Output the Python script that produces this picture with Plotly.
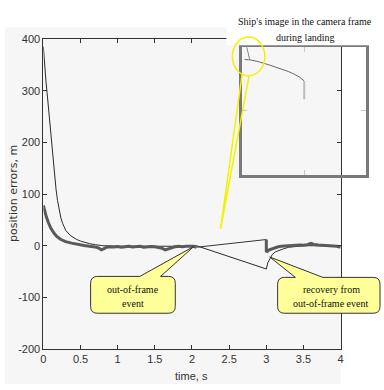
import plotly.graph_objects as go

# ---------------- data ----------------
# thin (dark) series: position error, m
t_thin = [0, 0.01, 0.02, 0.035, 0.05, 0.065, 0.08, 0.095, 0.11, 0.13, 0.15, 0.17, 0.19,
          0.21, 0.235, 0.26, 0.30, 0.36, 0.40, 0.45, 0.50, 0.56, 0.62, 0.70, 0.80,
          1.0, 1.2, 1.4, 1.6, 1.8, 2.0, 2.06,
          3.0, 3.02, 3.05, 3.08, 3.12, 3.17, 3.23, 3.3, 3.4, 3.5, 3.7, 4.0]
e_thin = [385, 362, 340, 318, 296, 272, 248, 224, 200, 168, 138, 110, 88,
          70, 54, 43, 30, 20, 16, 12, 9, 6, 4, 2, 0,
          -1, -1, -1, -2, -1, -1, 0,
          -45, -33, -24, -17, -12, -9, -6, -3, -1, 0, 0, -1]

# thick (gray) series, before the out-of-frame event
t_gray_a = [0, 0.02, 0.04, 0.07, 0.10, 0.14, 0.18, 0.23, 0.30, 0.38, 0.46, 0.55, 0.62,
            0.68, 0.72, 0.75, 0.78, 0.81, 0.85, 0.90, 0.95, 1.00, 1.05, 1.10, 1.15, 1.20,
            1.25, 1.30, 1.35, 1.40, 1.45, 1.50, 1.55, 1.60, 1.64, 1.68, 1.72, 1.77, 1.82,
            1.87, 1.92, 1.97, 2.02, 2.06]
e_gray_a = [78, 66, 56, 44, 34, 25, 18, 12.5, 8, 5, 2.5, 0.5, -1,
            -2, -3, -5, -8, -6, -3, -2, -2.5, -1.5, -3, -2, -1, -2.5,
            -2, -1, -3, -2, -1.5, -2, -3, -5, -8, -6, -3, -2, -1,
            -2, -1, -1.5, -1, -3]
# thick (gray) series, after recovery
t_gray_b = [3.0, 3.0, 3.04, 3.08, 3.12, 3.16, 3.2, 3.25, 3.3, 3.35, 3.4, 3.45, 3.5,
            3.55, 3.6, 3.64, 3.7, 3.75, 3.8, 3.85, 3.9, 3.95, 4.0]
e_gray_b = [12, -12, -8, -5.5, -3.5, -2, -1, -0.5, 0, 1, 0.5, 1.5, 1,
            2, 4.5, 2.5, 1.5, 1, 1.5, 0.5, 0, -1, -3]

x_ticks = [0, 0.5, 1, 1.5, 2, 2.5, 3, 3.5, 4]
x_tick_labels = ["0", "0.5", "1", "1.5", "2", "2.5", "3", "3.5", "4"]
y_ticks = [-200, -100, 0, 100, 200, 300, 400]
y_tick_labels = ["-200", "-100", "0", "100", "200", "300", "400"]

# inset: ship's image trace in the camera frame (normalized frame units 0..2)
inset_x = [0.04, 0.15, 0.30, 0.45, 0.63, 0.75, 0.85, 0.93, 1.0]
inset_y = [1.80, 1.79, 1.755, 1.71, 1.65, 1.61, 1.565, 1.52, 1.465]
inset_drop_x = [1.0, 1.0]
inset_drop_y = [1.465, 1.18]
inset_start_x = [0.075, 0.12]
inset_start_y = [1.99, 1.80]

# ---------------- figure ----------------
W, H = 384, 390


def P(px, py):
    return px / W, 1 - py / H


def path(points):
    s = ""
    for cmd, pts in points:
        s += cmd
        s += " ".join(f"{P(x, y)[0]:.5f},{P(x, y)[1]:.5f}" for x, y in pts) + " "
    return s + "Z"


def callout(x0, y0, x1, y1, b0, b1, tip, r=7):
    return path([
        ("M", [(x0 + r, y0)]),
        ("L", [(b0, y0)]),
        ("L", [tip]),
        ("L", [(b1, y0)]),
        ("L", [(x1 - r, y0)]),
        ("Q", [(x1, y0), (x1, y0 + r)]),
        ("L", [(x1, y1 - r)]),
        ("Q", [(x1, y1), (x1 - r, y1)]),
        ("L", [(x0 + r, y1)]),
        ("Q", [(x0, y1), (x0, y1 - r)]),
        ("L", [(x0, y0 + r)]),
        ("Q", [(x0, y0), (x0 + r, y0)]),
    ])


fig = go.Figure()

fig.add_trace(go.Scatter(x=t_thin, y=e_thin, mode="lines",
                         line=dict(color="#2a2a2a", width=1), hoverinfo="skip"))
fig.add_trace(go.Scatter(x=[t_gray_a[-1], t_gray_b[0]], y=[e_gray_a[-1], e_gray_b[0]],
                         mode="lines", line=dict(color="#333333", width=1), hoverinfo="skip"))
fig.add_trace(go.Scatter(x=t_gray_a, y=e_gray_a, mode="lines",
                         line=dict(color="#5a5a5a", width=3), hoverinfo="skip"))
fig.add_trace(go.Scatter(x=t_gray_b, y=e_gray_b, mode="lines",
                         line=dict(color="#5a5a5a", width=3), hoverinfo="skip"))

# inset traces
fig.add_trace(go.Scatter(x=inset_x, y=inset_y, mode="lines", xaxis="x2", yaxis="y2",
                         line=dict(color="#666666", width=1, shape="spline"), hoverinfo="skip"))
fig.add_trace(go.Scatter(x=inset_drop_x, y=inset_drop_y, mode="lines", xaxis="x2", yaxis="y2",
                         line=dict(color="#bbbbbb", width=2), hoverinfo="skip"))
fig.add_trace(go.Scatter(x=inset_start_x, y=inset_start_y, mode="lines", xaxis="x2", yaxis="y2",
                         line=dict(color="#888888", width=1), hoverinfo="skip"))

tick_font = dict(family="Liberation Sans Narrow, Arial Narrow, Liberation Sans, sans-serif",
                 size=11, color="#333333")

axis_common = dict(showline=True, linecolor="#333333", linewidth=1, mirror="ticks",
                   ticks="inside", ticklen=4, tickcolor="#333333", showgrid=False,
                   zeroline=False, tickfont=tick_font)

fig.update_layout(
    width=W, height=H,
    margin=dict(l=0, r=0, t=0, b=0),
    paper_bgcolor="white",
    plot_bgcolor="rgba(0,0,0,0)",
    showlegend=False,
    xaxis=dict(domain=[41 / W, 343 / W], range=[0, 4], tickvals=x_ticks,
               ticktext=x_tick_labels, **axis_common),
    yaxis=dict(domain=[1 - 354 / H, 1 - 34 / H], range=[-200, 400], tickvals=y_ticks,
               ticktext=y_tick_labels, **axis_common),
    xaxis2=dict(domain=[243 / W, 369 / W], range=[0, 2], anchor="y2", tickvals=[1],
                showticklabels=False, ticks="inside", ticklen=5, tickcolor="#c8c8c8",
                showline=True, linewidth=3, linecolor="#7a7a7a", mirror="ticks",
                showgrid=False, zeroline=False),
    yaxis2=dict(domain=[1 - 174 / H, 1 - 42 / H], range=[0, 2], anchor="x2", tickvals=[1],
                showticklabels=False, ticks="inside", ticklen=5, tickcolor="#c8c8c8",
                showline=True, linewidth=3, linecolor="#7a7a7a", mirror="ticks",
                showgrid=False, zeroline=False),
)

shapes = []
# light gray figure background
gx0, gy0 = P(2, 22)
gx1, gy1 = P(343, 390)
shapes.append(dict(type="rect", xref="paper", yref="paper", x0=gx0, y0=gy1, x1=gx1, y1=gy0,
                   fillcolor="#f6f6f6", line=dict(width=0), layer="below"))
# white area of the inset picture (covers top frame line)
wx0, wy0 = P(227, 0)
wx1, wy1 = P(384, 40.5)
shapes.append(dict(type="rect", xref="paper", yref="paper", x0=wx0, y0=wy1, x1=wx1, y1=wy0,
                   fillcolor="white", line=dict(width=0), layer="above"))
# yellow ellipse and pointer
ex0, ey0 = P(233, 72)
ex1, ey1 = P(266, 32)
shapes.append(dict(type="circle", xref="paper", yref="paper", x0=ex0, y0=ey0, x1=ex1, y1=ey1,
                   line=dict(color="#f2f200", width=1.5), layer="above"))
shapes.append(dict(type="path", xref="paper", yref="paper",
                   path=path([("M", [(243, 70)]), ("L", [(221, 230)]), ("L", [(250, 72)])])[:-1],
                   line=dict(color="#f2f200", width=1.5), layer="above"))
# callouts
shapes.append(dict(type="path", xref="paper", yref="paper",
                   path=callout(89, 279, 175, 317, 139, 160, (194, 248)),
                   fillcolor="#ffff99", line=dict(color="#333333", width=1), layer="above"))
shapes.append(dict(type="path", xref="paper", yref="paper",
                   path=callout(279, 280, 383, 317, 297, 325, (271, 259)),
                   fillcolor="#ffff99", line=dict(color="#333333", width=1), layer="above"))
fig.update_layout(shapes=shapes)

serif = dict(family="Liberation Serif, Times New Roman, serif", size=10, color="#111111")
ann = []


def add_text(text, px, py, font, angle=0):
    x, y = P(px, py)
    ann.append(dict(text=text, x=x, y=y, xref="paper", yref="paper", showarrow=False,
                    xanchor="center", yanchor="middle", font=font, textangle=angle))


add_text("Ship's image in the camera frame", 307, 16, serif)
add_text("during landing", 307, 32, serif)
add_text("out-of-frame", 132, 292, serif)
add_text("event", 132, 307, serif)
add_text("recovery from", 334, 292, serif)
add_text("out-of-frame event", 333, 307, serif)
add_text("time, s", 191, 382, tick_font)
add_text("position errors, m", 10, 193,
         dict(family="DejaVu Sans, sans-serif", size=11, color="#333333"), angle=-90)
fig.update_layout(annotations=ann)

fig.write_html("out.html")
